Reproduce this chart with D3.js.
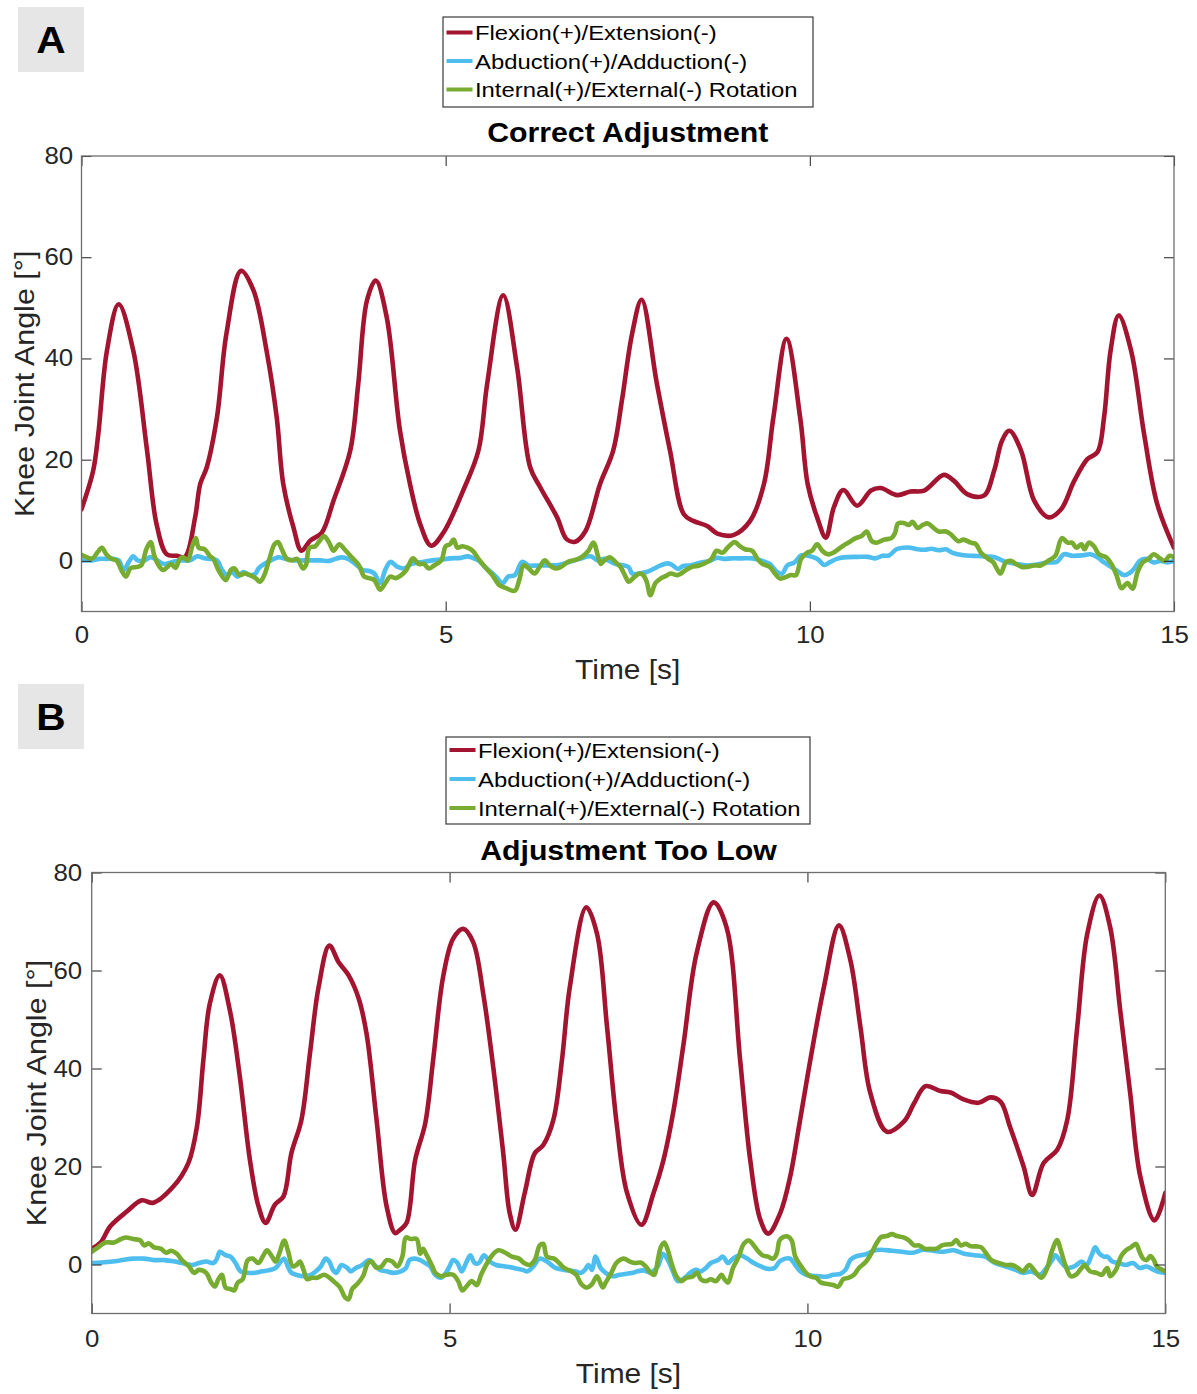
<!DOCTYPE html>
<html>
<head>
<meta charset="utf-8">
<script src="https://cdn.jsdelivr.net/npm/d3@7"></script>
<style>
  body { margin: 0; background: #fff; }
  svg { display: block; }
</style>
</head>
<body>
<script>
// ---------- data (time [s], angle [deg]) ----------
const seriesNames = ['Flexion(+)/Extension(-)', 'Abduction(+)/Adduction(-)', 'Internal(+)/External(-) Rotation'];
const seriesColors = ['#a2142f', '#4dbeee', '#77ac30'];
const xTicks = [0, 5, 10, 15];
const yTicks = [0, 20, 40, 60, 80];
const panelTitles = ['Correct Adjustment', 'Adjustment Too Low'];
const panelLetters = ['A', 'B'];

const flexA = [[0,10.2],[0.16,17.8],[0.23,25],[0.35,41.6],[0.51,50.7],[0.71,41.6],[0.9,21.8],[1.03,7.3],[1.17,1.3],[1.31,1.0],[1.42,0.8],[1.56,8.6],[1.63,15.2],[1.72,18.5],[1.86,28.4],[1.99,44.9],[2.19,57.3],[2.36,53.5],[2.54,41.6],[2.68,28.4],[2.77,15.2],[2.91,6.6],[3.02,2],[3.14,4],[3.3,5.6],[3.46,11.9],[3.69,21.8],[3.8,35],[3.92,51.5],[4.04,55.4],[4.19,48.2],[4.37,26],[4.51,15.2],[4.65,7.3],[4.8,3],[4.97,5.6],[5.24,13.9],[5.45,21.8],[5.57,35],[5.79,52.5],[5.98,38.3],[6.16,18.5],[6.3,14.5],[6.53,8.6],[6.66,4.3],[6.78,3.8],[6.92,5.9],[7.12,15.2],[7.3,21.8],[7.42,31.7],[7.56,44.9],[7.69,51.6],[7.9,35],[8.08,21.8],[8.27,9.2],[8.4,7.9],[8.59,6.9],[8.73,5.4],[8.95,5.1],[9.18,7.9],[9.37,15.2],[9.5,28.4],[9.68,43.9],[9.87,28],[9.97,15.2],[10.1,8.6],[10.22,4.6],[10.33,10.6],[10.46,14],[10.65,10.9],[10.84,13.9],[10.97,14.4],[11.2,13],[11.38,13.7],[11.57,13.9],[11.84,17],[11.98,15.8],[12.16,13.2],[12.39,12.9],[12.53,17.8],[12.64,23.8],[12.74,25.7],[12.9,21.8],[13.08,11.9],[13.28,8.6],[13.45,10.2],[13.63,15.8],[13.81,20.1],[13.95,21.5],[14.04,28.4],[14.13,41.6],[14.24,48.5],[14.41,41.6],[14.59,25],[14.77,11.2],[15,2.6]];

const abdA = [[0,0.1],[0.15,0.1],[0.24,0.4],[0.34,0.4],[0.43,0.4],[0.51,0.1],[0.58,-1.8],[0.65,-0.2],[0.71,0.9],[0.77,0.1],[0.87,0.1],[0.94,0.7],[1.01,0.4],[1.13,-0.6],[1.25,-0.2],[1.37,0.1],[1.49,0.1],[1.59,0.9],[1.69,0.5],[1.78,0.4],[1.86,0.1],[1.93,-1.8],[2.0,-2.8],[2.07,-2.2],[2.14,-3.1],[2.22,-2.2],[2.31,-2.8],[2.39,-2.5],[2.43,-1.5],[2.51,-0.6],[2.6,0.1],[2.7,0.7],[2.8,0.4],[2.92,0.1],[3.04,0.1],[3.13,0.1],[3.28,0.1],[3.4,0.0],[3.49,0.4],[3.57,0.7],[3.66,0.4],[3.76,-0.6],[3.86,-1.8],[3.95,-2.0],[4.02,-2.5],[4.1,-4.4],[4.17,-1.8],[4.24,-0.2],[4.34,-1.2],[4.43,-1.5],[4.53,-0.6],[4.68,-0.2],[4.82,0.1],[4.96,0.3],[5.06,0.5],[5.21,0.6],[5.3,0.9],[5.37,0.6],[5.45,0.1],[5.54,-1.2],[5.69,-3.1],[5.78,-4.4],[5.86,-3.1],[5.95,-2.8],[6.05,-0.2],[6.14,-0.9],[6.27,-0.9],[6.41,-0.9],[6.55,-0.8],[6.7,-0.2],[6.84,0.4],[6.99,0.9],[7.09,0.1],[7.18,0.4],[7.33,-0.6],[7.51,-1.2],[7.56,-2.5],[7.66,-2.5],[7.76,-2.2],[7.85,-1.6],[7.95,-0.9],[8.05,-0.5],[8.12,-0.9],[8.19,-1.6],[8.26,-1.0],[8.36,-0.9],[8.48,-0.4],[8.63,0.0],[8.72,0.6],[8.82,0.4],[8.92,0.5],[9.06,0.5],[9.21,0.5],[9.35,0.0],[9.45,-0.6],[9.55,-2.2],[9.62,-2.5],[9.69,-0.9],[9.79,-0.3],[9.88,1.1],[9.98,1.0],[10.1,0.4],[10.2,-0.8],[10.27,-0.3],[10.37,0.4],[10.46,0.7],[10.66,0.8],[10.8,0.8],[10.9,0.5],[11.0,1.0],[11.09,1.1],[11.19,2.3],[11.29,2.6],[11.38,2.6],[11.48,2.3],[11.58,2.2],[11.67,2.4],[11.77,2.1],[11.87,2.3],[11.96,1.6],[12.11,1.1],[12.25,1.0],[12.4,0.9],[12.54,0.7],[12.69,-0.2],[12.83,-0.6],[12.98,-0.9],[13.12,-0.7],[13.27,-0.3],[13.39,-0.2],[13.49,1.3],[13.61,1.0],[13.75,1.1],[13.85,1.3],[13.95,0.7],[14.04,-0.3],[14.14,-1.2],[14.24,-2.2],[14.31,-2.8],[14.38,-2.5],[14.45,-1.6],[14.53,0.0],[14.62,0.4],[14.72,-0.3],[14.82,0.0],[14.91,-0.3],[15.0,0.0]];

const rotA = [[0,1.2],[0.15,0.5],[0.22,1.7],[0.28,2.6],[0.34,1.3],[0.41,0.4],[0.48,0.1],[0.55,-1.9],[0.61,-3.1],[0.67,-1.5],[0.75,-1.2],[0.82,-0.9],[0.89,2.3],[0.95,3.7],[1.0,1.0],[1.06,-0.9],[1.12,-1.8],[1.18,-1.2],[1.23,-0.6],[1.29,-1.4],[1.35,0.4],[1.40,0.7],[1.46,0.1],[1.52,2.9],[1.57,4.5],[1.61,2.6],[1.69,2.3],[1.76,1.0],[1.81,0.4],[1.88,-1.8],[1.98,-3.8],[2.05,-1.8],[2.1,-1.5],[2.17,-2.8],[2.24,-2.5],[2.31,-2.8],[2.39,-3.4],[2.45,-4.1],[2.51,-2.8],[2.58,0.4],[2.65,3.3],[2.70,3.7],[2.75,2.3],[2.82,0.4],[2.89,0.1],[2.96,0.4],[3.04,-1.5],[3.08,-0.9],[3.13,2.6],[3.21,2.9],[3.28,4.2],[3.33,4.9],[3.40,3.6],[3.46,2.0],[3.54,3.3],[3.61,2.3],[3.71,0.7],[3.81,-0.9],[3.88,-3.1],[3.95,-3.4],[4.02,-3.8],[4.1,-5.7],[4.17,-4.4],[4.24,-3.1],[4.31,-3.4],[4.39,-2.8],[4.46,-1.8],[4.55,0.5],[4.63,-0.6],[4.70,-0.6],[4.77,-1.5],[4.84,-0.9],[4.94,0.1],[5.0,2.9],[5.06,3.3],[5.11,4.2],[5.16,2.6],[5.23,2.9],[5.30,2.6],[5.37,2.0],[5.45,0.4],[5.54,-1.2],[5.64,-2.8],[5.73,-4.7],[5.83,-5.4],[5.95,-5.9],[6.01,-3.8],[6.07,-0.9],[6.14,-1.5],[6.22,-2.5],[6.29,-1.2],[6.36,0.1],[6.43,-0.9],[6.51,-1.5],[6.58,-1.2],[6.68,-0.2],[6.75,0.1],[6.82,0.4],[6.89,1.0],[6.96,2.0],[7.03,3.6],[7.09,1.0],[7.13,-0.6],[7.18,0.1],[7.25,0.7],[7.33,-0.2],[7.4,-1.2],[7.47,-3.1],[7.51,-4.1],[7.59,-3.2],[7.66,-2.5],[7.71,-2.8],[7.76,-4.1],[7.81,-6.8],[7.88,-4.4],[7.95,-3.5],[8.02,-3.0],[8.09,-2.5],[8.19,-2.8],[8.29,-1.9],[8.38,-1.2],[8.48,-0.9],[8.58,-0.3],[8.65,0.4],[8.72,2.0],[8.8,1.6],[8.87,2.6],[8.97,3.7],[9.04,2.9],[9.11,2.3],[9.21,2.0],[9.28,0.4],[9.35,-0.6],[9.45,-1.2],[9.52,-2.5],[9.59,-3.5],[9.67,-3.2],[9.74,-2.8],[9.81,-2.8],[9.88,0.4],[9.96,1.6],[10.03,2.0],[10.1,3.3],[10.17,2.0],[10.25,1.3],[10.32,1.6],[10.42,2.6],[10.49,3.3],[10.56,3.9],[10.63,4.5],[10.71,4.9],[10.78,5.8],[10.85,3.9],[10.92,3.6],[11.02,4.2],[11.12,4.5],[11.17,5.5],[11.21,7.4],[11.29,7.5],[11.36,7.1],[11.41,7.7],[11.48,6.5],[11.55,7.1],[11.62,7.4],[11.7,6.5],[11.77,5.8],[11.87,5.8],[11.94,5.2],[12.04,3.9],[12.11,4.2],[12.21,3.6],[12.28,3.3],[12.35,1.6],[12.45,0.4],[12.52,-0.3],[12.57,-1.6],[12.62,-2.5],[12.69,-0.3],[12.76,0.0],[12.83,-0.6],[12.91,-1.2],[12.98,-1.2],[13.08,-0.9],[13.17,-0.9],[13.27,0.0],[13.37,1.0],[13.46,4.5],[13.54,3.6],[13.6,3.6],[13.66,2.6],[13.73,3.3],[13.77,2.3],[13.83,3.6],[13.9,2.9],[13.97,1.3],[14.07,0.7],[14.14,-0.6],[14.21,-2.8],[14.28,-5.4],[14.36,-4.4],[14.43,-5.5],[14.5,-2.2],[14.57,-0.3],[14.65,0.4],[14.72,1.3],[14.79,0.7],[14.87,0.0],[14.94,1.0],[15.0,0.7]];

const flexB = [[0,3.2],[0.12,4.4],[0.26,7.8],[0.49,10.8],[0.7,13.1],[0.86,12.6],[1.14,15.9],[1.35,20.7],[1.47,28.1],[1.56,41.7],[1.65,53.2],[1.79,59],[1.93,51.9],[2.07,38.3],[2.21,21.4],[2.33,11.9],[2.43,8.5],[2.56,12.2],[2.68,13.9],[2.79,22.7],[2.93,29.5],[3.05,43.1],[3.17,56.6],[3.32,65.1],[3.45,61.7],[3.59,59],[3.73,54.3],[3.84,47.1],[3.98,29.5],[4.12,11.9],[4.24,6.4],[4.31,7.1],[4.4,8.5],[4.52,21.4],[4.66,28.8],[4.77,41.7],[4.91,58.7],[5.05,66.5],[5.19,68.5],[5.33,65.8],[5.47,55.3],[5.61,40.3],[5.75,22.7],[5.84,10.5],[5.92,7.1],[6.05,14.6],[6.19,22.7],[6.31,24.4],[6.45,29.5],[6.57,41.7],[6.68,56.6],[6.91,72.9],[7.06,67.5],[7.2,48.5],[7.34,28.1],[7.48,14.6],[7.68,8.1],[7.85,14.6],[7.99,21.4],[8.13,31.5],[8.27,45.1],[8.45,63.4],[8.69,73.9],[8.87,68.8],[9.06,41.7],[9.2,21.4],[9.34,9.2],[9.45,6.3],[9.62,10.5],[9.76,18],[9.88,28],[10.04,41.7],[10.23,56.6],[10.44,69.2],[10.6,62.1],[10.74,48.5],[10.88,34.9],[11.11,27.1],[11.35,29.2],[11.49,32.9],[11.65,36.4],[11.86,35.4],[12,35.1],[12.18,33.7],[12.39,33],[12.56,34.1],[12.7,33.2],[12.83,28.1],[13.02,20],[13.14,14.2],[13.3,20.7],[13.49,23.4],[13.63,29.5],[13.77,48.5],[13.91,67.5],[14.08,75.3],[14.23,68.8],[14.37,51.9],[14.51,34.9],[14.65,18],[14.85,9],[15,14.6]];

const abdB = [[0,0.3],[0.14,0.4],[0.29,0.6],[0.43,0.9],[0.58,1.2],[0.73,1.2],[0.87,0.9],[1.02,0.9],[1.16,0.6],[1.26,0.3],[1.4,-0.1],[1.5,0.3],[1.6,0.6],[1.7,0.3],[1.75,1.2],[1.79,2.6],[1.87,1.9],[1.94,1.6],[2.01,0.3],[2.08,-1.4],[2.18,-1.7],[2.28,-1.7],[2.38,-1.4],[2.47,-1.2],[2.57,-0.7],[2.64,0.6],[2.69,1.2],[2.74,-0.4],[2.79,-1.7],[2.86,-2.1],[2.96,-2.4],[3.06,-2.1],[3.13,-1.4],[3.2,-0.4],[3.27,1.2],[3.32,0.6],[3.37,-1.1],[3.42,-1.7],[3.49,-0.1],[3.57,-0.7],[3.62,-1.4],[3.69,-0.7],[3.78,-0.1],[3.88,0.9],[3.95,-0.1],[4.03,-1.1],[4.12,-1.4],[4.22,-1.7],[4.32,-1.4],[4.39,-0.7],[4.44,0.9],[4.51,1.2],[4.59,0.9],[4.66,0.3],[4.73,-0.4],[4.8,-2.1],[4.88,-2.7],[4.95,-1.7],[5.0,-0.4],[5.05,0.9],[5.11,0.3],[5.17,-1.4],[5.23,0.3],[5.29,1.9],[5.35,0.3],[5.41,0.3],[5.48,1.9],[5.56,0.6],[5.65,-0.1],[5.78,-0.4],[5.9,-0.7],[6.02,-1.1],[6.09,-1.4],[6.17,-0.4],[6.26,1.2],[6.36,0.6],[6.48,-0.7],[6.6,-1.1],[6.75,-1.4],[6.84,-1.7],[6.89,-1.1],[6.94,-0.1],[6.99,-1.1],[7.04,1.6],[7.11,-0.7],[7.18,-1.7],[7.28,-2.4],[7.38,-2.1],[7.56,-1.7],[7.62,-1.4],[7.71,-1.2],[7.81,-1.6],[7.91,-0.4],[7.98,2.2],[8.05,0.9],[8.12,-1.4],[8.19,-3.4],[8.29,-2.7],[8.36,-1.7],[8.44,-1.1],[8.51,-1.4],[8.58,-0.7],[8.65,0.3],[8.75,0.9],[8.82,1.6],[8.89,0.3],[8.96,1.2],[9.06,1.9],[9.16,1.2],[9.25,0.3],[9.35,-0.4],[9.45,-0.9],[9.54,-0.7],[9.61,0.6],[9.69,1.2],[9.76,1.2],[9.83,-0.1],[9.9,-1.4],[9.98,-2.1],[10.07,-2.3],[10.17,-2.4],[10.26,-2.5],[10.36,-2.1],[10.46,-1.9],[10.53,-1.1],[10.6,0.9],[10.67,1.6],[10.75,1.9],[10.84,2.2],[10.94,2.9],[11.03,3.0],[11.18,2.8],[11.32,2.6],[11.47,2.4],[11.61,3.0],[11.76,2.8],[11.9,2.6],[12.04,2.9],[12.19,2.2],[12.33,1.9],[12.48,1.6],[12.62,0.3],[12.77,-0.4],[12.91,-1.1],[13.01,-1.7],[13.13,-1.4],[13.25,-2.1],[13.34,-0.7],[13.42,0.9],[13.46,1.9],[13.54,0.6],[13.63,-0.7],[13.73,-0.4],[13.83,0.6],[13.9,-0.1],[13.97,1.9],[14.02,3.5],[14.08,2.2],[14.14,1.6],[14.19,1.6],[14.26,0.6],[14.35,0.3],[14.45,-0.1],[14.55,0.3],[14.64,-0.7],[14.74,-0.4],[14.84,-1.1],[14.93,-1.6],[15.0,-1.7]];

const rotB = [[0,2.6],[0.09,3.5],[0.19,4.5],[0.31,4.5],[0.41,5.2],[0.48,5.5],[0.58,5.2],[0.68,4.9],[0.73,3.9],[0.8,4.3],[0.87,3.5],[0.97,3.2],[1.04,2.4],[1.11,2.8],[1.19,2.2],[1.26,0.9],[1.36,-0.4],[1.43,-1.7],[1.5,-1.1],[1.6,-1.7],[1.67,-3.7],[1.72,-4.5],[1.77,-3.0],[1.82,-2.1],[1.87,-4.7],[1.94,-5.0],[1.99,-5.3],[2.04,-3.7],[2.11,-3.0],[2.18,0.9],[2.25,1.2],[2.33,0.3],[2.4,1.9],[2.45,2.9],[2.52,1.6],[2.57,0.6],[2.62,2.2],[2.69,4.9],[2.74,2.9],[2.81,-0.4],[2.86,-0.1],[2.91,0.6],[2.96,-1.1],[3.01,-3.0],[3.08,-2.7],[3.15,-2.7],[3.25,-2.1],[3.32,-2.7],[3.4,-3.7],[3.47,-4.7],[3.54,-6.7],[3.59,-7.1],[3.64,-5.0],[3.71,-4.0],[3.79,-2.4],[3.86,0.3],[3.91,0.6],[3.98,-0.7],[4.05,-0.4],[4.12,0.9],[4.2,0.6],[4.27,-0.4],[4.34,1.6],[4.39,5.5],[4.46,5.2],[4.54,5.2],[4.59,2.2],[4.63,3.2],[4.68,1.9],[4.76,-0.4],[4.8,-1.7],[4.88,-2.4],[4.95,-2.1],[5.05,-2.1],[5.12,-3.4],[5.18,-5.3],[5.24,-4.4],[5.31,-3.4],[5.38,-4.2],[5.44,-2.1],[5.51,-0.1],[5.58,1.6],[5.68,2.9],[5.78,2.4],[5.87,1.6],[5.97,1.2],[6.04,0.3],[6.12,-0.1],[6.19,0.9],[6.26,3.9],[6.31,4.2],[6.36,1.6],[6.46,1.2],[6.53,0.3],[6.6,-0.7],[6.7,-1.4],[6.77,-2.1],[6.84,-4.0],[6.92,-4.7],[6.99,-4.0],[7.06,-2.4],[7.14,-4.7],[7.18,-3.7],[7.26,-1.7],[7.33,0.3],[7.43,1.2],[7.52,0.6],[7.59,0.3],[7.67,0.4],[7.74,-0.4],[7.81,-1.7],[7.86,-2.1],[7.91,0.9],[7.95,3.5],[8.0,4.5],[8.05,2.9],[8.1,0.3],[8.17,-2.4],[8.24,-3.4],[8.31,-2.7],[8.39,-2.5],[8.46,-1.7],[8.51,-3.0],[8.58,-3.4],[8.65,-3.0],[8.72,-3.4],[8.8,-2.1],[8.84,-3.0],[8.89,-3.7],[8.96,-0.7],[9.04,1.6],[9.11,4.2],[9.18,4.9],[9.25,3.9],[9.3,2.9],[9.37,1.9],[9.45,1.6],[9.52,1.2],[9.57,2.2],[9.61,4.9],[9.66,5.6],[9.73,5.7],[9.78,4.9],[9.83,1.6],[9.9,-0.1],[9.98,-1.7],[10.05,-2.5],[10.12,-2.7],[10.19,-3.7],[10.29,-4.0],[10.36,-4.2],[10.43,-4.5],[10.5,-3.0],[10.58,-2.7],[10.65,-2.1],[10.72,-0.7],[10.82,0.6],[10.89,2.2],[10.96,4.2],[11.03,5.6],[11.11,5.8],[11.18,6.2],[11.25,5.8],[11.35,5.5],[11.42,4.9],[11.49,3.9],[11.56,3.9],[11.64,3.2],[11.71,3.2],[11.8,3.2],[11.88,3.9],[11.95,4.1],[12.02,4.2],[12.08,5.0],[12.14,3.9],[12.21,4.2],[12.29,3.7],[12.36,3.7],[12.43,3.5],[12.5,2.2],[12.57,0.9],[12.67,0.3],[12.77,-0.1],[12.86,-0.1],[12.94,-0.7],[13.01,-1.4],[13.1,-0.1],[13.18,-1.4],[13.27,-2.7],[13.34,-1.1],[13.42,2.9],[13.49,5.0],[13.54,2.9],[13.61,-0.4],[13.68,-2.4],[13.75,-2.1],[13.83,-0.7],[13.87,-0.1],[13.95,-1.4],[14.04,-1.7],[14.11,-2.1],[14.19,-0.7],[14.23,-2.4],[14.31,-1.1],[14.38,1.6],[14.45,2.9],[14.52,3.5],[14.59,4.2],[14.64,2.6],[14.69,1.2],[14.74,0.9],[14.79,1.7],[14.84,0.9],[14.88,-0.4],[14.96,-1.1],[15.0,-1.4]];

// ---------- layout ----------
const W = 1197, H = 1394;
const FONT = '"Liberation Sans", Arial, Helvetica, sans-serif';
const INK = '#262626';

const panels = [
  { letter: panelLetters[0], title: panelTitles[0], series: [flexA, abdA, rotA],
    left: 81.5, right: 1174, top: 156, bottom: 611.5,
    tag: { x: 18, y: 7 }, legend: { x: 443, y: 17, w: 370, h: 90, rows: [32.5, 61, 89.5] },
    titleY: 142, xLabelY: 679, yLabelX: 24, yPad: 7.6, xPad: 15 },
  { letter: panelLetters[1], title: panelTitles[1], series: [flexB, abdB, rotB],
    left: 91.7, right: 1165.3, top: 872.5, bottom: 1313.5,
    tag: { x: 18, y: 684 }, legend: { x: 446, y: 737, w: 364, h: 87, rows: [750, 779, 808] },
    titleY: 860, xLabelY: 1383, yLabelX: 36, yPad: 8.6, xPad: 16.5 }
];

const svg = d3.select('body').append('svg')
  .attr('width', W).attr('height', H)
  .attr('font-family', FONT);

// text with a slight horizontal stretch to mimic the original typeface widths
function addText(g, txt, x, y, opts) {
  const o = Object.assign({ size: 24, weight: 'normal', anchor: 'start', rot: 0, sx: 1.1, fill: INK }, opts);
  return g.append('text')
    .attr('transform', `translate(${x},${y}) rotate(${o.rot}) scale(${o.sx},1)`)
    .attr('font-size', o.size)
    .attr('font-weight', o.weight)
    .attr('text-anchor', o.anchor)
    .attr('fill', o.fill)
    .text(txt);
}

panels.forEach((p, pi) => {
  const g = svg.append('g').attr('class', 'panel-' + pi);

  const x = d3.scaleLinear().domain([0, 15]).range([p.left, p.right]);
  const y = d3.scaleLinear().domain([-10, 80]).range([p.bottom, p.top]);

  // panel tag
  g.append('rect').attr('x', p.tag.x).attr('y', p.tag.y)
    .attr('width', 66).attr('height', 65).attr('fill', '#e6e6e6');
  addText(g, p.letter, p.tag.x + 33, p.tag.y + 46, { size: 37, weight: 'bold', anchor: 'middle', fill: '#000' });

  // clip
  const clipId = 'clip' + pi;
  g.append('clipPath').attr('id', clipId).append('rect')
    .attr('x', p.left).attr('y', p.top)
    .attr('width', p.right - p.left).attr('height', p.bottom - p.top);

  // lines
  const line = d3.line()
    .x(d => x(d[0])).y(d => y(d[1]))
    .curve(d3.curveCatmullRom.alpha(0.5));

  g.append('g').attr('clip-path', `url(#${clipId})`)
    .selectAll('path').data(p.series).join('path')
    .attr('d', line)
    .attr('fill', 'none')
    .attr('stroke', (d, i) => seriesColors[i])
    .attr('stroke-width', 4.6)
    .attr('stroke-linejoin', 'round')
    .attr('stroke-linecap', 'round');

  // axes (ticks pointing inward, MATLAB box style)
  const styleAxis = sel => {
    sel.select('.domain').remove();
    sel.selectAll('.tick line').attr('stroke', '#333').attr('stroke-width', 1.1);
    sel.selectAll('.tick text').attr('fill', INK).attr('font-size', 23.5).attr('font-family', FONT);
  };

  const gx = g.append('g').attr('transform', `translate(0,${p.bottom})`)
    .call(d3.axisBottom(x).tickValues(xTicks).tickSize(-10).tickPadding(p.xPad).tickFormat(d3.format('d')))
    .call(styleAxis);
  gx.selectAll('.tick text').attr('transform', 'scale(1.1,1)');

  const gy = g.append('g').attr('transform', `translate(${p.left},0)`)
    .call(d3.axisLeft(y).tickValues(yTicks).tickSize(-10).tickPadding(p.yPad).tickFormat(d3.format('d')))
    .call(styleAxis);
  gy.selectAll('.tick text').attr('transform', 'scale(1.1,1)');

  g.append('g').attr('transform', `translate(0,${p.top})`)
    .call(d3.axisTop(x).tickValues(xTicks).tickSize(-10).tickFormat(''))
    .call(styleAxis);
  g.append('g').attr('transform', `translate(${p.right},0)`)
    .call(d3.axisRight(y).tickValues(yTicks).tickSize(-10).tickFormat(''))
    .call(styleAxis);

  // box
  g.append('rect')
    .attr('x', p.left).attr('y', p.top)
    .attr('width', p.right - p.left).attr('height', p.bottom - p.top)
    .attr('fill', 'none').attr('stroke', '#6e6e6e').attr('stroke-width', 1.3);

  // title + axis labels
  const cx = (p.left + p.right) / 2;
  addText(g, p.title, cx, p.titleY, { size: 28, weight: 'bold', anchor: 'middle', sx: 1.08, fill: '#000' });
  addText(g, 'Time [s]', cx, p.xLabelY, { size: 28.5, anchor: 'middle', sx: 1.05 });
  addText(g, 'Knee Joint Angle [°]', p.yLabelX, (p.top + p.bottom) / 2, { size: 28.5, anchor: 'middle', rot: -90, sx: 1.07 })
    .attr('dominant-baseline', 'central');

  // legend
  const L = p.legend;
  const lg = g.append('g');
  lg.append('rect').attr('x', L.x).attr('y', L.y).attr('width', L.w).attr('height', L.h)
    .attr('fill', '#fff').attr('stroke', '#3a3a3a').attr('stroke-width', 1.2);
  seriesNames.forEach((name, i) => {
    const ry = L.rows[i];
    lg.append('line')
      .attr('x1', L.x + 3.5).attr('x2', L.x + 29.5)
      .attr('y1', ry).attr('y2', ry)
      .attr('stroke', seriesColors[i]).attr('stroke-width', 4);
    addText(lg, name, L.x + 32, ry + 7.6, { size: 21, sx: 1.135, fill: '#000' });
  });
});
</script>
</body>
</html>
